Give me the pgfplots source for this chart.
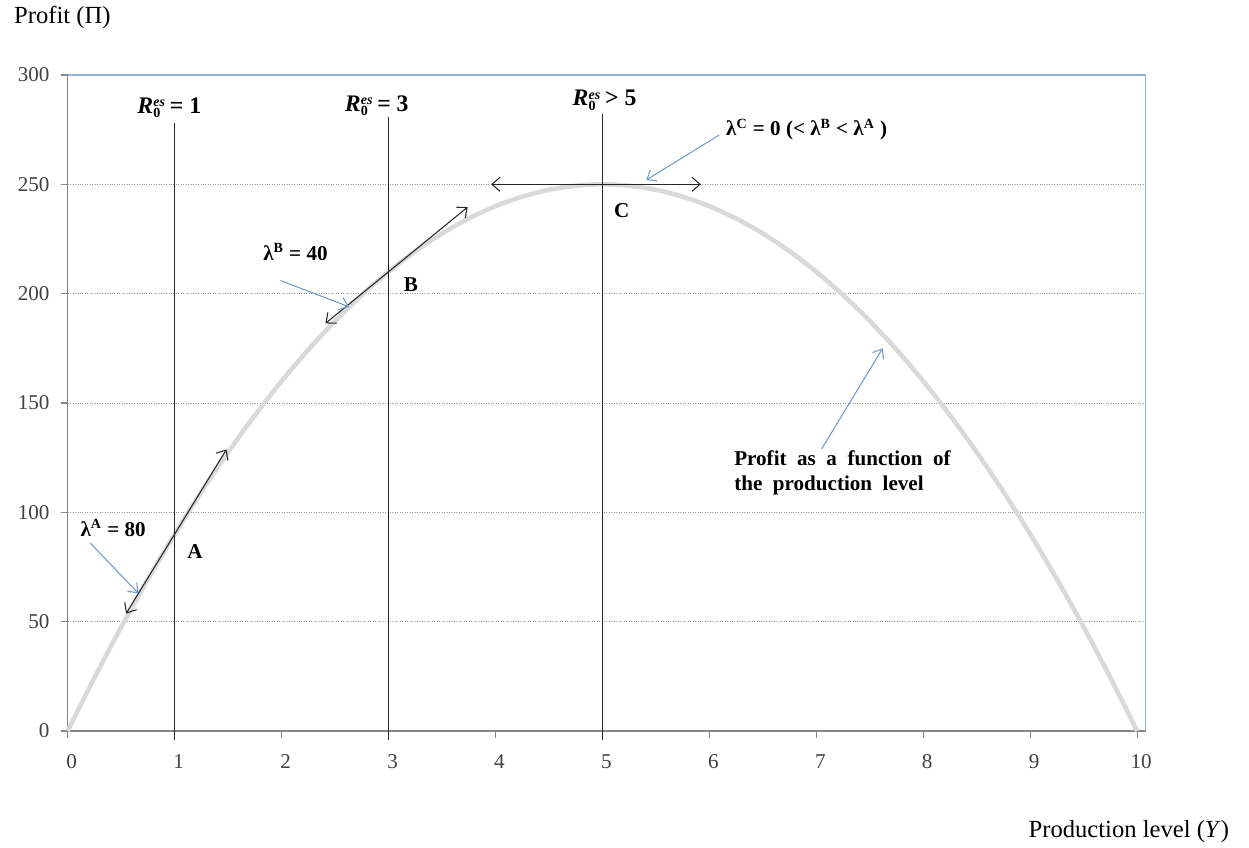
\documentclass[border=0pt]{standalone}
\usepackage{fontspec}
\setmainfont{Liberation Serif}
\usepackage{pgfplots}
\pgfplotsset{compat=1.18}
\usetikzlibrary{arrows.meta}
\definecolor{curvegray}{HTML}{D9D9D9}
\definecolor{frameblue}{HTML}{95B3D7}
\definecolor{axisgray}{HTML}{868686}
\definecolor{pointer}{HTML}{6F9BD1}
\definecolor{ticktext}{HTML}{404040}

\newcommand{\Res}{\textit{R}\rlap{\raisebox{0.6ex}{\fontsize{8}{9}\selectfont\bfseries\itshape es}}\raisebox{-0.4ex}{\fontsize{8}{9}\selectfont\bfseries 0}\hspace{0.4em}}

\begin{document}
\begin{tikzpicture}
\useasboundingbox (-1.354,-2.32) rectangle (23.626,14.62);
\begin{axis}[
  at={(0,0)}, anchor=south west,
  width=21.56cm, height=13.12cm, scale only axis,
  xmin=0, xmax=10.08, ymin=0, ymax=300,
  xtick={0,1,...,10}, ytick={0,50,...,300},
  axis x line*=bottom, axis y line*=left,
  axis line style={axisgray, line width=0.6pt, -},
  tick align=outside, major tick length=0.14cm,
  tick style={axisgray, line width=0.6pt},
  ymajorgrids, grid style={densely dotted, gray!80, line width=0.4pt},
  ticklabel style={font=\fontsize{12}{14}\selectfont, text=ticktext},
  xticklabel style={yshift=-0.2cm, xshift=0.08cm},
  yticklabel style={xshift=-0.1cm},
  /pgf/number format/assume math mode=true,
  clip=false,
]
% profit curve
\addplot[curvegray, line width=2.6pt, smooth] coordinates {
  (0,0) (0.25,24.375) (0.5,47.5) (0.75,69.375) (1,90) (1.25,109.375)
  (1.5,127.5) (1.75,144.375) (2,160) (2.25,174.375) (2.5,187.5)
  (2.75,199.375) (3,210) (3.25,219.375) (3.5,227.5) (3.75,234.375)
  (4,240) (4.25,244.375) (4.5,247.5) (4.75,249.375) (5,250)
  (5.25,249.375) (5.5,247.5) (5.75,244.375) (6,240) (6.25,234.375)
  (6.5,227.5) (6.75,219.375) (7,210) (7.25,199.375) (7.5,187.5)
  (7.75,174.375) (8,160) (8.25,144.375) (8.5,127.5) (8.75,109.375)
  (9,90) (9.25,69.375) (9.5,47.5) (9.75,24.375) (10,0)};
% vertical R lines
\addplot[black!85, line width=0.6pt] coordinates {(1,-4) (1,278)};
\addplot[black!85, line width=0.6pt] coordinates {(3,-4) (3,281)};
\addplot[black!85, line width=0.6pt] coordinates {(5,-4) (5,282)};
% tangents
\addplot[black!85, line width=0.6pt, {Straight Barb[length=1.6mm,width=2.8mm]}-{Straight Barb[length=1.6mm,width=2.8mm]}]
  coordinates {(0.546,53.7) (1.485,128.8)};
\addplot[black!85, line width=0.6pt, {Straight Barb[length=1.6mm,width=2.8mm]}-{Straight Barb[length=1.6mm,width=2.8mm]}]
  coordinates {(2.41,186.4) (3.74,239.6)};
\addplot[black!85, line width=0.6pt, {Straight Barb[length=1.6mm,width=2.8mm]}-{Straight Barb[length=1.6mm,width=2.8mm]}]
  coordinates {(3.96,250) (5.92,250)};
% blue pointers
\addplot[pointer, line width=0.6pt, -{Straight Barb[length=1.6mm,width=2.6mm]}] coordinates {(0.21,86) (0.66,63)};
\addplot[pointer, line width=0.6pt, -{Straight Barb[length=1.6mm,width=2.6mm]}] coordinates {(1.99,206) (2.63,194)};
\addplot[pointer, line width=0.6pt, -{Straight Barb[length=1.6mm,width=2.6mm]}] coordinates {(6.09,272.5) (5.41,252)};
\addplot[pointer, line width=0.6pt, -{Straight Barb[length=1.6mm,width=2.6mm]}] coordinates {(7.05,129) (7.62,175)};

\begin{scope}[every node/.style={font=\fontsize{12}{14}\selectfont\bfseries, inner sep=0pt}]
\node[font=\fontsize{13.5}{15}\selectfont\bfseries] at (axis cs:0.95,285) {\Res= 1};
\node[font=\fontsize{13.5}{15}\selectfont\bfseries] at (axis cs:2.89,286) {\Res= 3};
\node[font=\fontsize{13.5}{15}\selectfont\bfseries] at (axis cs:5.02,288.5) {\Res> 5};
\node at (axis cs:1.19,82) {A};
\node at (axis cs:3.21,204) {B};
\node at (axis cs:5.18,238) {C};
\node at (axis cs:0.425,93) {λ\textsuperscript{A} = 80};
\node at (axis cs:2.13,219) {λ\textsuperscript{B} = 40};
\node at (axis cs:6.91,275) {λ\textsuperscript{C} = 0 (< λ\textsuperscript{B} < λ\textsuperscript{A} )};
\node[anchor=west, align=left] at (axis cs:6.23,118) {\spaceskip=0.5em Profit as a function of\\\spaceskip=0.5em the production level};
\end{scope}
\draw[frameblue, line width=0.8pt] (rel axis cs:0,1) -- (rel axis cs:1,1) -- (rel axis cs:1,0);
\end{axis}
\node[anchor=west, font=\fontsize{14}{16}\selectfont] at (-1.194,14.28) {Profit (Π)};
\node[anchor=east, font=\fontsize{14}{16}\selectfont] at (23.35,-2.02) {Production level (\textit{Y})};
\end{tikzpicture}
\end{document}
